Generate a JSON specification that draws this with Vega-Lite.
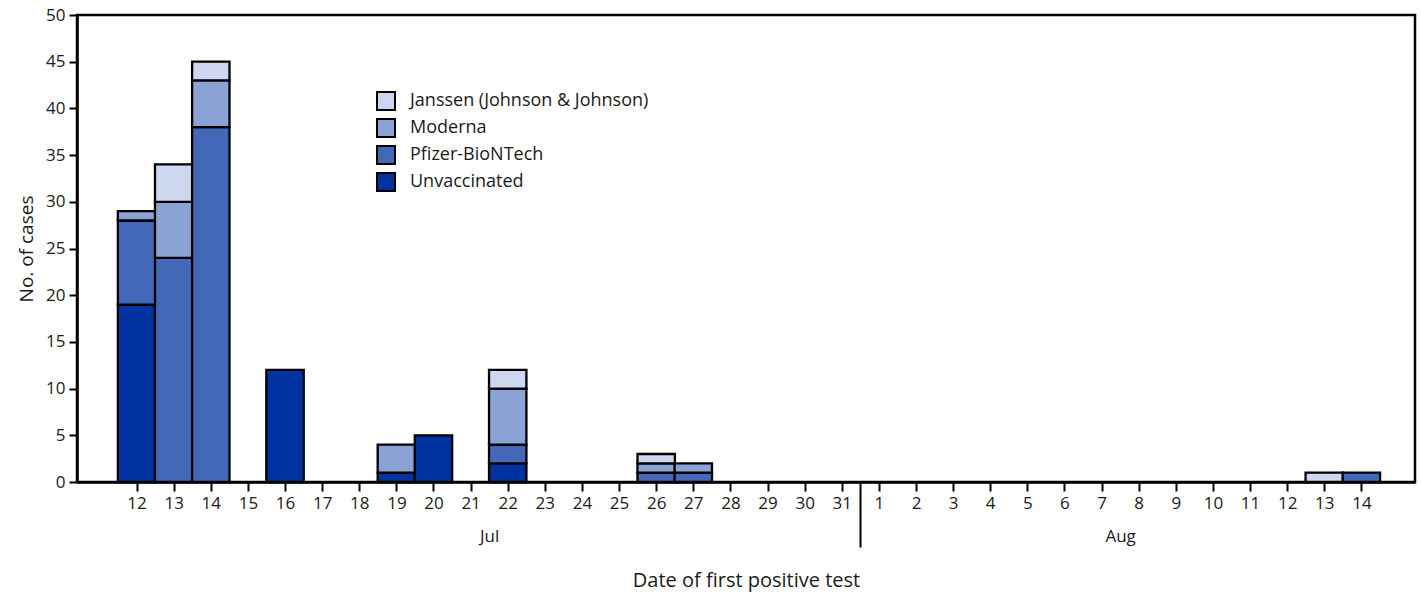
{
  "$schema": "https://vega.github.io/schema/vega-lite/v6.json",
  "autosize": "none",
  "width": 1338,
  "height": 467,
  "padding": {"left": 77, "top": 15, "right": 6, "bottom": 115},
  "config": {
    "font": "Open Sans",
    "view": {"stroke": "black", "strokeWidth": 2.5},
    "axis": {"labelColor": "#1a1a1a", "titleColor": "#1a1a1a", "domainColor": "black", "tickColor": "black", "grid": false}
  },
  "data": {
    "values": [
      {"date": "2021-07-12", "vaccine": "Unvaccinated", "cases": 19},
      {"date": "2021-07-12", "vaccine": "Pfizer-BioNTech", "cases": 9},
      {"date": "2021-07-12", "vaccine": "Moderna", "cases": 1},
      {"date": "2021-07-13", "vaccine": "Pfizer-BioNTech", "cases": 24},
      {"date": "2021-07-13", "vaccine": "Moderna", "cases": 6},
      {"date": "2021-07-13", "vaccine": "Janssen (Johnson & Johnson)", "cases": 4},
      {"date": "2021-07-14", "vaccine": "Pfizer-BioNTech", "cases": 38},
      {"date": "2021-07-14", "vaccine": "Moderna", "cases": 5},
      {"date": "2021-07-14", "vaccine": "Janssen (Johnson & Johnson)", "cases": 2},
      {"date": "2021-07-16", "vaccine": "Unvaccinated", "cases": 12},
      {"date": "2021-07-19", "vaccine": "Unvaccinated", "cases": 1},
      {"date": "2021-07-19", "vaccine": "Moderna", "cases": 3},
      {"date": "2021-07-20", "vaccine": "Unvaccinated", "cases": 5},
      {"date": "2021-07-22", "vaccine": "Unvaccinated", "cases": 2},
      {"date": "2021-07-22", "vaccine": "Pfizer-BioNTech", "cases": 2},
      {"date": "2021-07-22", "vaccine": "Moderna", "cases": 6},
      {"date": "2021-07-22", "vaccine": "Janssen (Johnson & Johnson)", "cases": 2},
      {"date": "2021-07-26", "vaccine": "Pfizer-BioNTech", "cases": 1},
      {"date": "2021-07-26", "vaccine": "Moderna", "cases": 1},
      {"date": "2021-07-26", "vaccine": "Janssen (Johnson & Johnson)", "cases": 1},
      {"date": "2021-07-27", "vaccine": "Pfizer-BioNTech", "cases": 1},
      {"date": "2021-07-27", "vaccine": "Moderna", "cases": 1},
      {"date": "2021-08-13", "vaccine": "Janssen (Johnson & Johnson)", "cases": 1},
      {"date": "2021-08-14", "vaccine": "Pfizer-BioNTech", "cases": 1}
    ]
  },
  "layer": [
    {
      "mark": {"type": "bar", "width": 37.4, "stroke": "black", "strokeWidth": 2.3},
      "encoding": {
        "x": {
          "field": "date", "type": "temporal",
          "scale": {"type": "utc", "domain": [
            {"year": 2021, "month": 7, "date": 10, "hours": 12, "minutes": 43, "utc": true},
            {"year": 2021, "month": 8, "date": 15, "hours": 7, "minutes": 26, "utc": true}
          ]},
          "axis": {
            "title": null,
            "orient": "bottom",
            "labelExpr": "utcFormat(datum.value, '%-d')",
            "values": [
              {"year": 2021, "month": 7, "date": 12, "utc": true},
              {"year": 2021, "month": 7, "date": 13, "utc": true},
              {"year": 2021, "month": 7, "date": 14, "utc": true},
              {"year": 2021, "month": 7, "date": 15, "utc": true},
              {"year": 2021, "month": 7, "date": 16, "utc": true},
              {"year": 2021, "month": 7, "date": 17, "utc": true},
              {"year": 2021, "month": 7, "date": 18, "utc": true},
              {"year": 2021, "month": 7, "date": 19, "utc": true},
              {"year": 2021, "month": 7, "date": 20, "utc": true},
              {"year": 2021, "month": 7, "date": 21, "utc": true},
              {"year": 2021, "month": 7, "date": 22, "utc": true},
              {"year": 2021, "month": 7, "date": 23, "utc": true},
              {"year": 2021, "month": 7, "date": 24, "utc": true},
              {"year": 2021, "month": 7, "date": 25, "utc": true},
              {"year": 2021, "month": 7, "date": 26, "utc": true},
              {"year": 2021, "month": 7, "date": 27, "utc": true},
              {"year": 2021, "month": 7, "date": 28, "utc": true},
              {"year": 2021, "month": 7, "date": 29, "utc": true},
              {"year": 2021, "month": 7, "date": 30, "utc": true},
              {"year": 2021, "month": 7, "date": 31, "utc": true},
              {"year": 2021, "month": 8, "date": 1, "utc": true},
              {"year": 2021, "month": 8, "date": 2, "utc": true},
              {"year": 2021, "month": 8, "date": 3, "utc": true},
              {"year": 2021, "month": 8, "date": 4, "utc": true},
              {"year": 2021, "month": 8, "date": 5, "utc": true},
              {"year": 2021, "month": 8, "date": 6, "utc": true},
              {"year": 2021, "month": 8, "date": 7, "utc": true},
              {"year": 2021, "month": 8, "date": 8, "utc": true},
              {"year": 2021, "month": 8, "date": 9, "utc": true},
              {"year": 2021, "month": 8, "date": 10, "utc": true},
              {"year": 2021, "month": 8, "date": 11, "utc": true},
              {"year": 2021, "month": 8, "date": 12, "utc": true},
              {"year": 2021, "month": 8, "date": 13, "utc": true},
              {"year": 2021, "month": 8, "date": 14, "utc": true}
            ],
            "domainWidth": 2.5,
            "tickWidth": 2,
            "tickSize": 9,
            "labelFontSize": 17,
            "labelPadding": 4,
            "labelAngle": 0,
            "labelFlush": false,
            "labelOverlap": false
          }
        },
        "y": {
          "field": "cases", "type": "quantitative",
          "stack": "zero",
          "scale": {"domain": [0, 50], "nice": false},
          "axis": {
            "title": "No. of cases",
            "values": [0, 5, 10, 15, 20, 25, 30, 35, 40, 45, 50],
            "domainWidth": 2.5,
            "tickWidth": 2,
            "tickSize": 8,
            "labelFontSize": 17,
            "labelPadding": 4,
            "titleFontSize": 19,
            "titleFontWeight": "normal",
            "titlePadding": 9
          }
        },
        "color": {
          "field": "vaccine", "type": "nominal",
          "scale": {
            "domain": ["Janssen (Johnson & Johnson)", "Moderna", "Pfizer-BioNTech", "Unvaccinated"],
            "range": ["#cdd7ef", "#8aa2d4", "#4468b8", "#0033a0"]
          },
          "legend": {
            "title": null,
            "orient": "none",
            "legendX": 299,
            "legendY": 76,
            "symbolType": "square",
            "symbolSize": 324,
            "symbolStrokeColor": "black",
            "symbolStrokeWidth": 2,
            "labelFontSize": 18,
            "labelLimit": 400,
            "labelColor": "#1a1a1a",
            "labelOffset": 14,
            "rowPadding": 1
          }
        },
        "order": {"field": "vaccine", "sort": "descending"}
      }
    },
    {
      "mark": {"type": "point", "opacity": 0},
      "encoding": {
        "x": {
          "field": "date", "type": "temporal",
          "axis": {
            "orient": "bottom",
            "title": "Date of first positive test",
            "titleFontSize": 20,
            "titleFontWeight": "normal",
            "titlePadding": 22,
            "domain": false,
            "values": [
              {"year": 2021, "month": 7, "date": 21, "hours": 12, "utc": true},
              {"year": 2021, "month": 7, "date": 31, "hours": 12, "utc": true},
              {"year": 2021, "month": 8, "date": 7, "hours": 12, "utc": true}
            ],
            "labelExpr": "utcdate(datum.value) == 31 ? '' : utcFormat(datum.value, '%b')",
            "tickSize": 65,
            "tickWidth": 2,
            "tickOpacity": {"condition": {"test": "utcdate(datum.value) == 31", "value": 1}, "value": 0},
            "labelFontSize": 17,
            "labelPadding": -19,
            "labelAngle": 0,
            "labelFlush": false
          }
        }
      }
    }
  ],
  "resolve": {"axis": {"x": "independent"}}
}
